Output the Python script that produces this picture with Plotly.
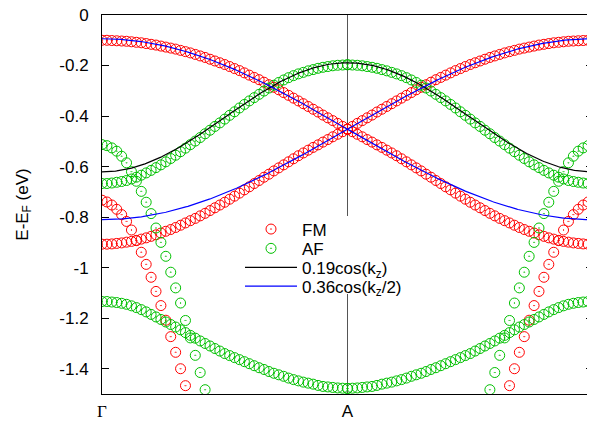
import numpy as np
import plotly.graph_objects as go

# ---------------- data ----------------
# k-path index: 0 = Gamma, 50 = A, 100 = Gamma ; left half values, right half is the mirror path A->Gamma
k_tick_vals = [0, 50, 100]
k_tick_text = ['<span style="font-family:Liberation Serif">Γ</span>', "A",
               '<span style="font-family:Liberation Serif">Γ</span>']

fm_upper = [-0.100, -0.100, -0.101, -0.102, -0.103, -0.104, -0.106, -0.108, -0.110, -0.113,
            -0.116, -0.119, -0.123, -0.127, -0.131, -0.135, -0.140, -0.145, -0.150, -0.156,
            -0.162, -0.168, -0.175, -0.182, -0.189, -0.196, -0.204, -0.212, -0.220, -0.229,
            -0.238, -0.247, -0.256, -0.266, -0.276, -0.286, -0.296, -0.307, -0.318, -0.329,
            -0.340, -0.351, -0.362, -0.373, -0.384, -0.396, -0.407, -0.418, -0.429, -0.441,
            -0.452]
fm_lower = [-0.907, -0.907, -0.906, -0.904, -0.902, -0.899, -0.896, -0.892, -0.887, -0.882,
            -0.876, -0.870, -0.863, -0.856, -0.849, -0.841, -0.832, -0.823, -0.814, -0.805,
            -0.795, -0.785, -0.774, -0.763, -0.752, -0.741, -0.729, -0.717, -0.705, -0.692,
            -0.680, -0.667, -0.655, -0.642, -0.630, -0.617, -0.605, -0.593, -0.581, -0.569,
            -0.557, -0.546, -0.535, -0.524, -0.514, -0.503, -0.493, -0.482, -0.472, -0.462,
            -0.452]
fm_steep = [-0.733, -0.740, -0.752, -0.769, -0.790, -0.817, -0.851, -0.893, -0.939, -0.987,
            -1.038, -1.094, -1.150, -1.208, -1.273, -1.335, -1.400, -1.467]

af_upper = [-0.667, -0.667, -0.665, -0.662, -0.659, -0.655, -0.649, -0.642, -0.634, -0.625,
            -0.615, -0.604, -0.593, -0.581, -0.568, -0.555, -0.541, -0.527, -0.513, -0.499,
            -0.485, -0.470, -0.456, -0.441, -0.427, -0.412, -0.397, -0.383, -0.368, -0.354,
            -0.340, -0.327, -0.314, -0.301, -0.289, -0.278, -0.267, -0.257, -0.248, -0.240,
            -0.233, -0.227, -0.221, -0.216, -0.211, -0.207, -0.204, -0.201, -0.199, -0.198,
            -0.197]
af_lower = [-1.134, -1.134, -1.136, -1.138, -1.141, -1.145, -1.151, -1.158, -1.166, -1.175,
            -1.185, -1.195, -1.205, -1.215, -1.225, -1.235, -1.246, -1.257, -1.268, -1.279,
            -1.290, -1.300, -1.310, -1.320, -1.330, -1.340, -1.348, -1.356, -1.364, -1.372,
            -1.380, -1.388, -1.396, -1.403, -1.411, -1.418, -1.424, -1.430, -1.437, -1.443,
            -1.448, -1.453, -1.457, -1.461, -1.466, -1.470, -1.472, -1.474, -1.476, -1.477,
            -1.478]
af_steep = [-0.513, -0.517, -0.526, -0.539, -0.559, -0.585, -0.620, -0.658, -0.698, -0.741,
            -0.786, -0.843, -0.900, -0.955, -1.018, -1.080, -1.140, -1.209, -1.278, -1.347,
            -1.415, -1.483]

# fitted model curves shown in the legend
black_offset, black_amp = -0.405, 0.216      # 0.19cos(kz) curve as drawn
blue_offset, blue_amp = -0.452, 0.358        # 0.36cos(kz/2) curve as drawn

y_tick_vals = [0, -0.2, -0.4, -0.6, -0.8, -1.0, -1.2, -1.4]
y_tick_text = ["0", "-0.2", "-0.4", "-0.6", "-0.8", "-1", "-1.2", "-1.4"]

# ---------------- build series ----------------
def both_halves(vals):
    idx = list(range(len(vals)))
    xs = idx + [100 - i for i in idx]
    ys = list(vals) + list(vals)
    return xs, ys

def family(*bands):
    xs, ys = [], []
    for b in bands:
        bx, by = both_halves(b)
        xs += bx
        ys += by
    return xs, ys

fm_x, fm_y = family(fm_upper, fm_lower, fm_steep)
af_x, af_y = family(af_upper, af_lower, af_steep)

xl = np.linspace(0, 100, 401)
kz = np.pi * xl / 50.0
black_y = black_offset - black_amp * np.cos(kz)
blue_y1 = blue_offset + blue_amp * np.cos(kz / 2)
blue_y2 = blue_offset + blue_amp * np.cos((2 * np.pi - kz) / 2)
blue_x = list(xl) + [None] + list(xl)
blue_y = list(blue_y1) + [None] + list(blue_y2)

FONT = "Liberation Sans, Arial, sans-serif"
RED = "#ff0000"
GREEN = "#00c000"

fig = go.Figure()
fig.add_trace(go.Scatter(x=fm_x, y=fm_y, mode="markers", name="FM", legend="legend",
                         marker=dict(symbol="circle-open-dot", size=10, color=RED,
                                     line=dict(width=1, color=RED))))
fig.add_trace(go.Scatter(x=af_x, y=af_y, mode="markers", name="AF", legend="legend2",
                         marker=dict(symbol="circle-open-dot", size=10, color=GREEN,
                                     line=dict(width=1, color=GREEN))))
fig.add_trace(go.Scatter(x=xl, y=black_y, mode="lines", name="0.19cos(k<sub>z</sub>)",
                         legend="legend3", line=dict(color="black", width=1.2)))
fig.add_trace(go.Scatter(x=blue_x, y=blue_y, mode="lines", name="0.36cos(k<sub>z</sub>/2)",
                         legend="legend4", line=dict(color="#0000ff", width=1.2)))

# page body has an 8px default margin: the figure is sized to fill the remaining window
OFF = 8
FIG_W, FIG_H = 595 - OFF, 421 - OFF
PX_L, PX_W, PX_B, PX_H = 102, 491, 394, 379   # plot area in window pixels

def leg(ypx):
    return dict(x=(240 - PX_L) / PX_W, y=(PX_B - ypx) / PX_H, xanchor="left", yanchor="middle",
                bgcolor="rgba(0,0,0,0)", borderwidth=0,
                font=dict(family=FONT, size=17, color="black"),
                itemwidth=52, tracegroupgap=0)

fig.update_layout(
    width=FIG_W, height=FIG_H,
    margin=dict(l=PX_L - OFF, r=595 - PX_L - PX_W, t=PX_B - PX_H - OFF, b=421 - PX_B,
                autoexpand=False),
    paper_bgcolor="white", plot_bgcolor="white",
    font=dict(family=FONT, size=17, color="black"),
    showlegend=True,
    legend=leg(229.5), legend2=leg(248.8), legend3=leg(267.8), legend4=leg(286.5),
    shapes=[dict(type="rect", xref="paper", yref="paper", layer="above",
                 x0=(242 - PX_L) / PX_W, x1=(425 - PX_L) / PX_W,
                 y0=(PX_B - 294) / PX_H, y1=(PX_B - 216) / PX_H,
                 fillcolor="white", line=dict(width=0))],
    xaxis=dict(range=[0, 100], tickvals=k_tick_vals, ticktext=k_tick_text,
               showgrid=True, gridcolor="#555555", gridwidth=1, zeroline=False,
               showline=True, linecolor="black", linewidth=1, mirror=True,
               ticks="", ticklabelstandoff=2, automargin=False, ticklabeloverflow="allow",
               tickfont=dict(family=FONT, size=17)),
    yaxis=dict(range=[-1.5, 0], tickvals=y_tick_vals, ticktext=y_tick_text,
               showgrid=False, zeroline=False, automargin=False, ticklabeloverflow="allow",
               showline=True, linecolor="black", linewidth=1, mirror="ticks",
               ticks="inside", ticklen=7, tickcolor="black", tickwidth=1,
               ticklabelstandoff=9, tickfont=dict(family=FONT, size=17),
               title=dict(text="E-E<sub>F</sub> (eV)", font=dict(family=FONT, size=17), standoff=26)),
)

fig.write_html("out.html")
